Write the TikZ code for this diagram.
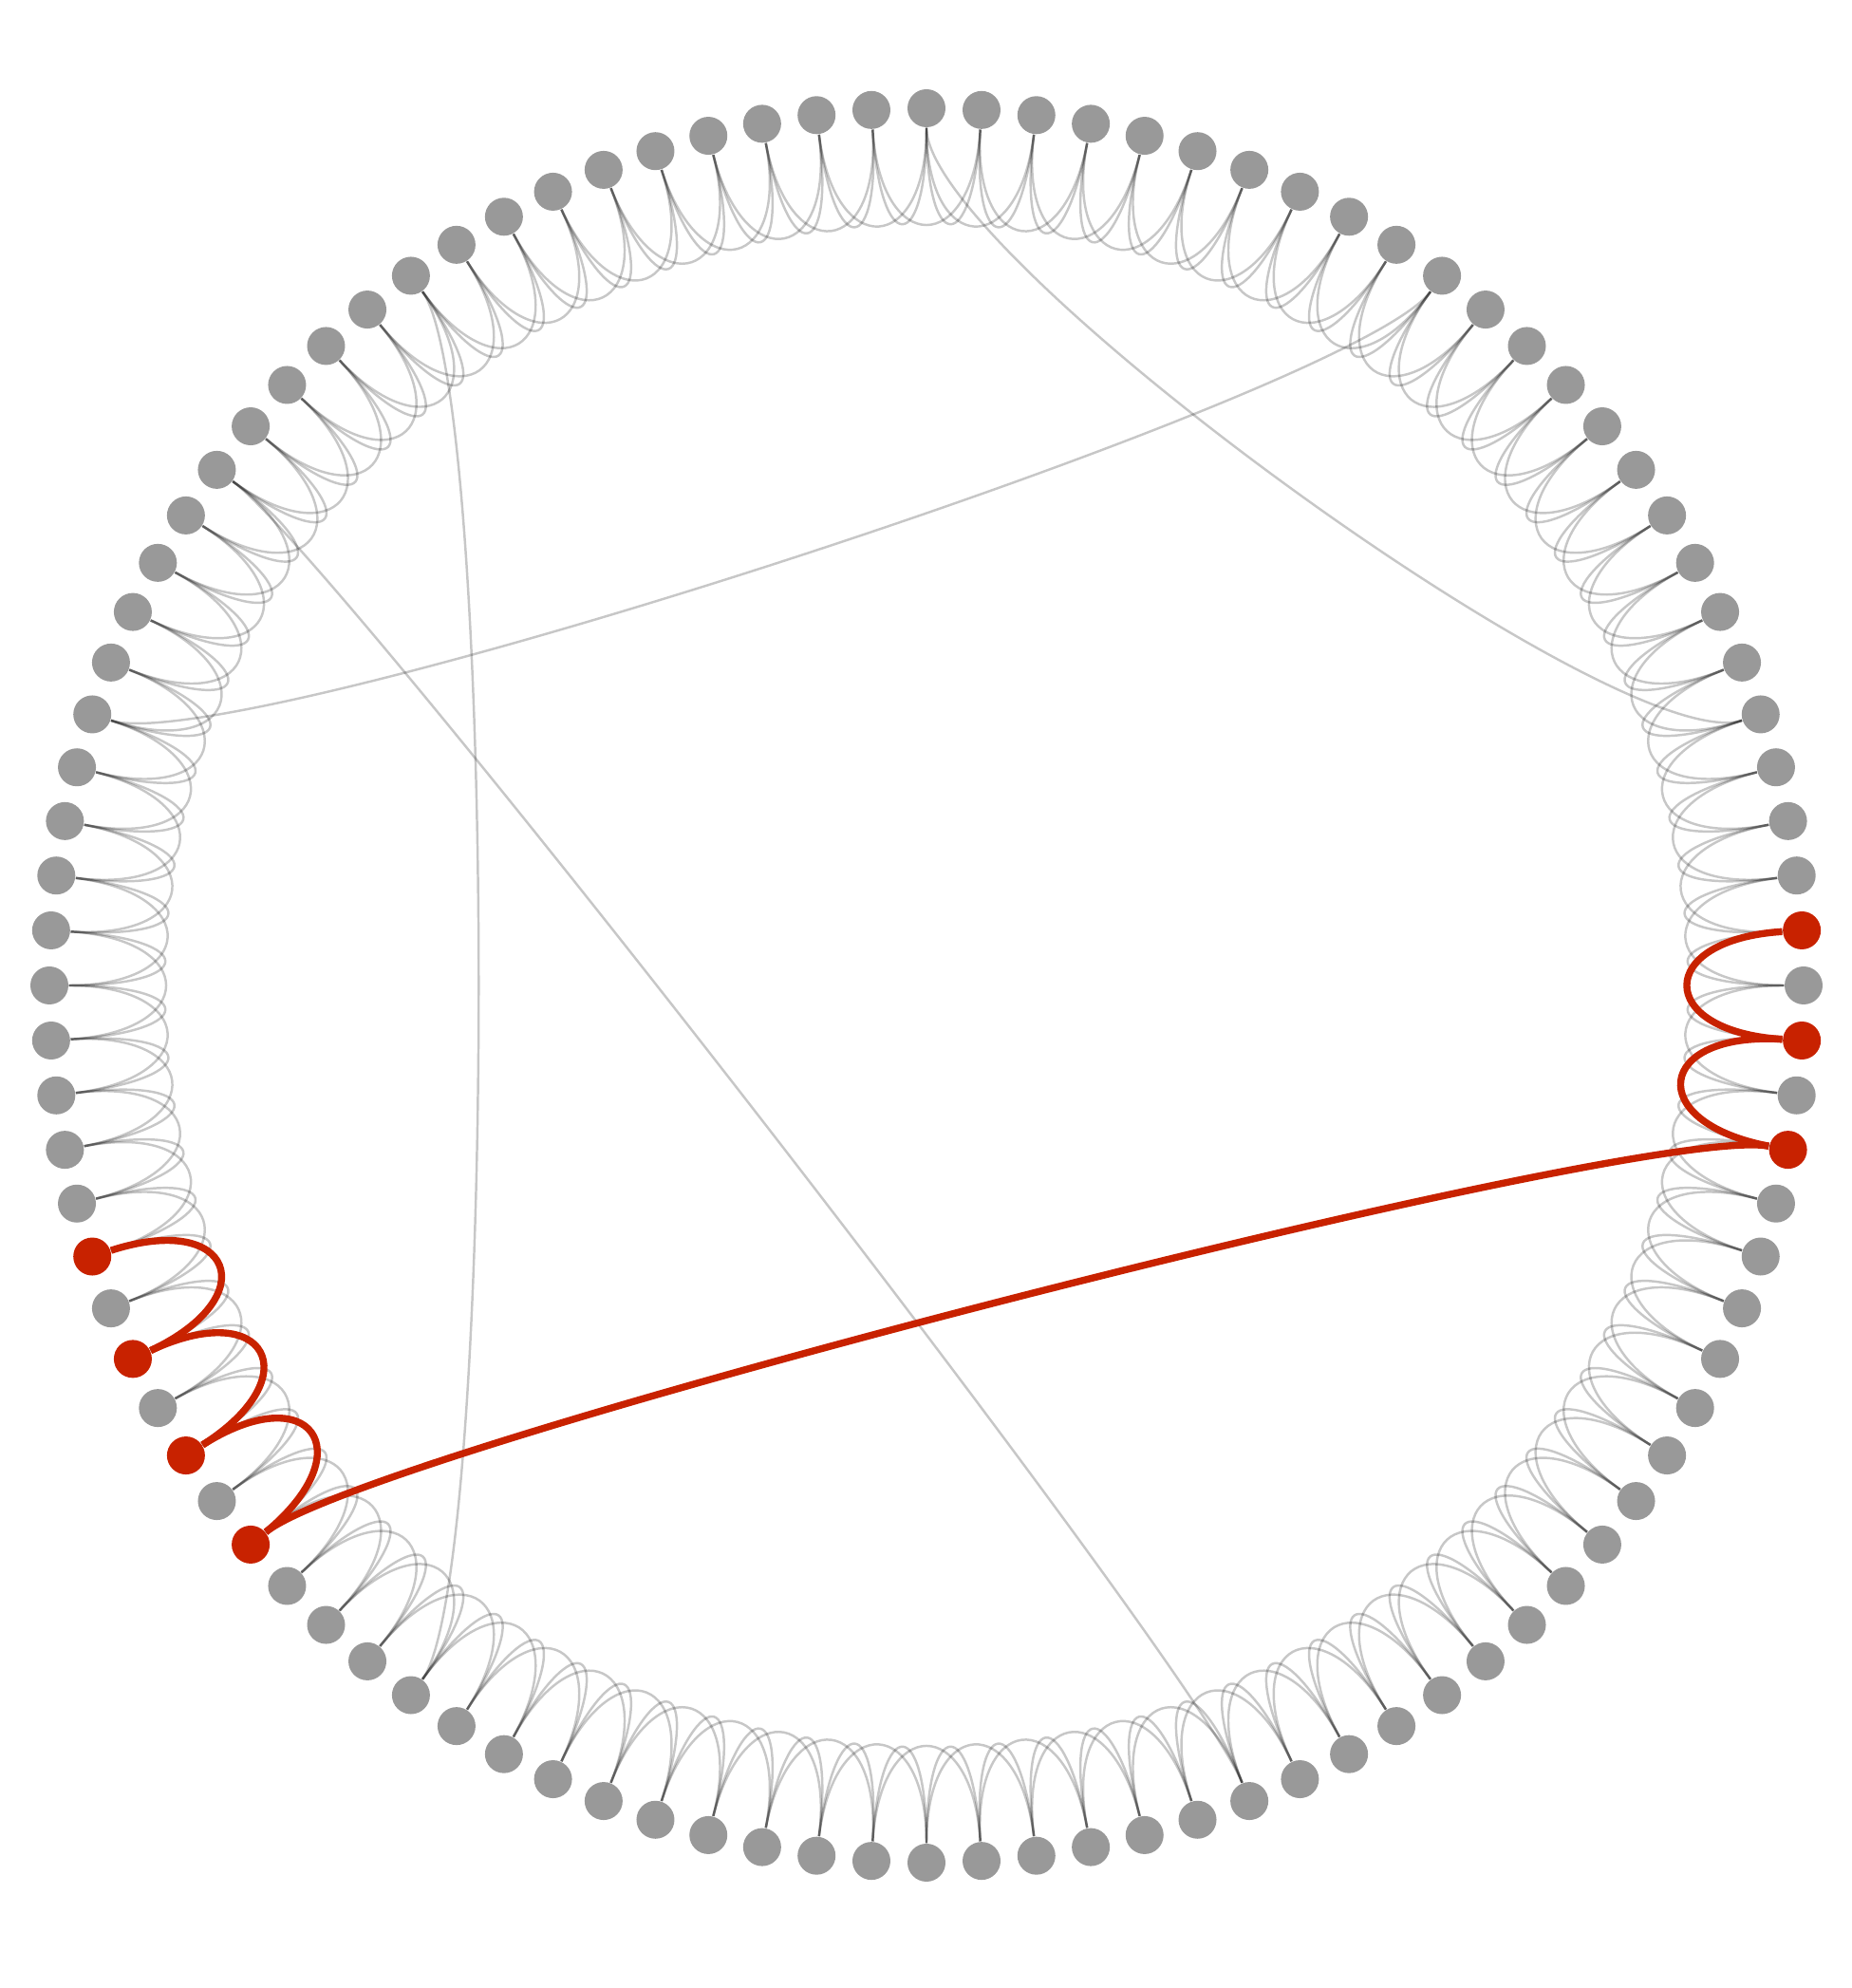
\documentclass[tikz,border=0pt]{standalone}
\usetikzlibrary{calc,backgrounds}

\definecolor{nodegray}{RGB}{153,153,153}
\definecolor{pathred}{RGB}{200,34,0}

\tikzset{
  vert/.style={circle,fill=nodegray,inner sep=0pt,minimum size=0.4cm},
  hot/.style={fill=pathred},
  ring/.style={line width=0.7pt,black,opacity=0.22},
  hotedge/.style={line width=2.1pt,pathred},
  % nodes on the highlighted path
  n1/.style=hot, n99/.style=hot, n97/.style=hot, n61/.style=hot,
  n59/.style=hot, n57/.style=hot, n55/.style=hot
}

% edge that leaves both ends towards the centre
\newcommand{\lnk}[3]{\draw[#1] (#2) .. controls ($(#2)!1.55cm!(ctr)$) and ($(#3)!1.55cm!(ctr)$) .. (#3);}

\begin{document}
\begin{tikzpicture}
\useasboundingbox (-9.76,-10.56) rectangle (9.74,10.38);
\coordinate (ctr) at (0,0);

\foreach \i in {0,...,99}
  \node[vert,n\i/.try] (v\i) at ({3.6*\i}:9.24) {};

\begin{scope}[on background layer]
% ring lattice
\foreach \i in {0,...,99} {
  \pgfmathtruncatemacro\ja{mod(\i+1,100)}
  \pgfmathtruncatemacro\jb{mod(\i+2,100)}
  \lnk{ring}{v\i}{v\ja}
  \lnk{ring}{v\i}{v\jb}
}
% shortcuts
\lnk{ring}{v25}{v5}
\lnk{ring}{v45}{v15}
\lnk{ring}{v35}{v65}
\lnk{ring}{v40}{v81}
\end{scope}

% highlighted path
\lnk{hotedge}{v1}{v99}
\lnk{hotedge}{v99}{v97}
\lnk{hotedge}{v97}{v61}
\lnk{hotedge}{v61}{v59}
\lnk{hotedge}{v59}{v57}
\lnk{hotedge}{v57}{v55}
\end{tikzpicture}
\end{document}
